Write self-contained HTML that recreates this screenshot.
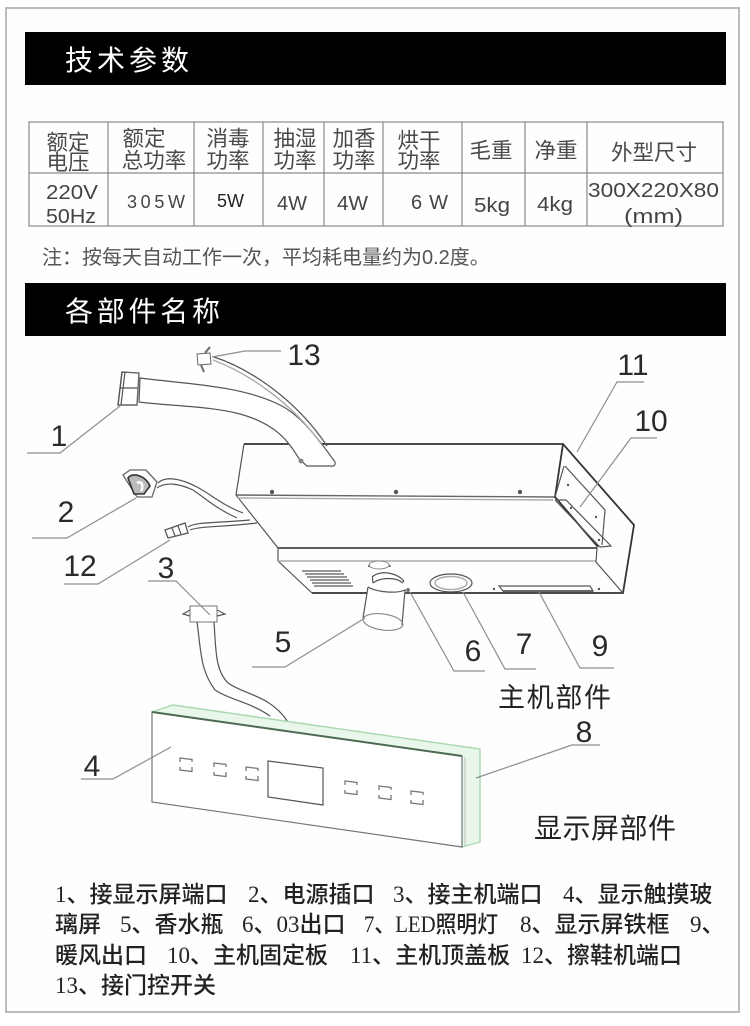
<!DOCTYPE html>
<html lang="zh"><head><meta charset="utf-8"><title>技术参数</title>
<style>
html,body{margin:0;padding:0;background:#fff;width:750px;height:1026px;overflow:hidden}
svg{display:block}
text{font-family:"Liberation Sans","Noto Sans CJK SC",sans-serif}
.th{font-size:21.5px;fill:#4a4a4a;text-anchor:middle}
.td{font-size:20px;fill:#444}
.n{font-size:30px;fill:#2a2a2a;text-anchor:middle}
.b{font-family:"Liberation Serif","Noto Sans CJK SC",serif;font-size:23px;fill:#222;font-weight:500}
.h{font-size:28px;fill:#fff}
.l{fill:none;stroke:#8e8e8e;stroke-width:1.2}
.k{fill:none;stroke:#555;stroke-width:1.2}
.d{fill:none;stroke:#333;stroke-width:1.8}
.g{fill:none;stroke:#aaa;stroke-width:1.4}
</style></head><body>
<svg width="750" height="1026" viewBox="0 0 750 1026" xmlns="http://www.w3.org/2000/svg">
<rect x="6" y="8" width="733" height="1004" fill="#fefefe" stroke="#b5b5b5" stroke-width="1.8"/>
<rect x="25" y="32" width="701" height="53" fill="#000"/>
<rect x="25" y="283" width="701" height="53" fill="#000"/>
<text class="h" x="65" y="70" textLength="124">技术参数</text>
<text class="h" x="65" y="321" textLength="155">各部件名称</text>

<!-- table -->
<g fill="none" stroke="#8a8a8a" stroke-width="1.2">
<rect x="29" y="122" width="694" height="104"/>
<path d="M29 173H723M108 122V226M194 122V226M263 122V226M324 122V226M383 122V226M462 122V226M525 122V226M587 122V226"/>
</g>
<text class="th" x="68" y="150">额定</text><text class="th" x="68" y="170">电压</text>
<text class="th" x="144" y="146">额定</text><text class="th" x="154" y="168">总功率</text>
<text class="th" x="228" y="146">消毒</text><text class="th" x="228" y="168">功率</text>
<text class="th" x="295" y="146">抽湿</text><text class="th" x="295" y="168">功率</text>
<text class="th" x="354" y="146">加香</text><text class="th" x="354" y="168">功率</text>
<text class="th" x="419" y="148">烘干</text><text class="th" x="419" y="168">功率</text>
<text class="th" x="491" y="158">毛重</text>
<text class="th" x="556" y="158">净重</text>
<text class="th" x="654" y="160">外型尺寸</text>
<text class="td" x="46" y="199" textLength="52" lengthAdjust="spacingAndGlyphs">220V</text>
<text class="td" x="46" y="223" textLength="50" lengthAdjust="spacingAndGlyphs">50Hz</text>
<text class="td" x="127" y="208" textLength="58" style="font-size:18px">305W</text>
<text class="td" x="217" y="207" textLength="27" style="font-size:18px;fill:#222">5W</text>
<text class="td" x="277" y="210" textLength="30" lengthAdjust="spacingAndGlyphs">4W</text>
<text class="td" x="337" y="210" textLength="31" lengthAdjust="spacingAndGlyphs">4W</text>
<text class="td" x="411" y="209" textLength="37">6 W</text>
<text class="td" x="474" y="212" textLength="36" lengthAdjust="spacingAndGlyphs">5kg</text>
<text class="td" x="537" y="211" textLength="36" lengthAdjust="spacingAndGlyphs">4kg</text>
<text class="td" x="588" y="197" textLength="131" lengthAdjust="spacingAndGlyphs">300X220X80</text>
<text class="td" x="624" y="223" textLength="59" lengthAdjust="spacingAndGlyphs">(mm)</text>
<text x="42" y="264" style="font-size:20px;fill:#555">注：按每天自动工作一次，平均耗电量约为0.2度。</text>

<!-- main unit -->
<path class="d" d="M244 444H563L634 525L623 593H312"/>
<path class="k" d="M244 444L236 495L278 548V561L312 593"/>
<path d="M236 495L555 497" stroke="#666" stroke-width="1.4" fill="none"/>
<path d="M238 498L553 500" class="g"/>
<path class="d" d="M563 444L555 497L598 547"/>
<path d="M278 548H597" stroke="#444" stroke-width="1.8" fill="none"/>
<path d="M278 561H596" class="g"/>
<path class="k" d="M597 548L596 562L623 593"/>
<path class="k" d="M564 466L555 497M565 466L605 510L602 545"/>
<path class="k" d="M555 500H566L611 546L600 547L555 500"/>
<g fill="#555"><circle cx="568" cy="485" r="1.2"/><circle cx="596" cy="517" r="1.2"/><circle cx="571" cy="508" r="1.2"/><circle cx="599" cy="540" r="1.2"/><circle cx="272" cy="492" r="2.2"/><circle cx="396" cy="492" r="2.2"/><circle cx="520" cy="492" r="2.2"/><circle cx="494" cy="589" r="1.2"/><circle cx="599" cy="589" r="1.2"/></g>
<g stroke="#777" stroke-width="1.6"><path d="M302 571H341M305 574H344M307 577H347M310 580H349M312 583H351M314 586H353"/></g>
<ellipse cx="451" cy="583" rx="21" ry="9" class="k"/><ellipse cx="451" cy="583" rx="16" ry="6.5" class="g"/>
<path class="k" d="M499 586H590L593 591H503Z"/><path d="M503 591H593" stroke="#444" stroke-width="1.5"/>
<!-- bottle -->
<ellipse cx="379" cy="565" rx="10" ry="4" fill="#fff" stroke="#888"/>
<circle cx="369" cy="566" r="1" fill="#666"/><circle cx="390" cy="566" r="1" fill="#666"/>
<path d="M372 577C380 570 396 572 404 581L406 590L405 596C404 610 404 618 402 624C392 634 370 632 363 618L368 587Z" fill="#fff" stroke="none"/>
<path class="k" d="M372 577C380 570 396 572 404 581"/>
<path class="k" d="M373 583C372 578 373 577 372 577M403 582L404 581"/>
<path class="k" d="M373 583C381 577 396 577 403 583"/>
<path class="k" d="M368 587C376 592 396 594 405 590L402 625"/>
<path class="k" d="M368 587L363 618"/>
<ellipse cx="383" cy="622" rx="20" ry="8" fill="none" stroke="#888" stroke-width="1.2" transform="rotate(8 383 622)"/>
<circle cx="408" cy="590" r="2" fill="#777"/>

<!-- hose 1 -->
<path d="M140 378C185 384 240 385 280 405C300 415 318 438 335 462Q336 467 330 466H307L300 460C290 445 280 425 240 414C210 406 170 406 139 402Z" fill="#fff" stroke="#555" stroke-width="1.2"/>
<path d="M122 372L139 373L137 405L118 405Z" fill="#fff" stroke="#666" stroke-width="1.4"/>
<path class="k" d="M122 372L118 405M125 372L121 405M120 388H138"/>
<circle cx="301" cy="461" r="2.5" fill="#888"/>
<!-- 13 -->
<path class="g" d="M213 360C245 372 290 400 322 445"/><path class="k" d="M214 357C248 368 295 398 327 446"/>
<path d="M197 354L210 353L211 364L198 365Z" fill="#fff" stroke="#666"/>
<path d="M205 353L210 347M201 365L204 372" stroke="#777" stroke-width="2.2" fill="none"/>
<!-- 2, 12 wires -->
<path class="k" d="M158 483C165 476 180 478 197 487C212 495 222 505 243 513"/>
<path class="k" d="M157 488C165 482 178 483 193 490C205 498 215 508 237 518"/>
<path class="k" d="M188 527C195 522 215 523 250 520M190 530C200 526 225 527 257 523"/>
<path d="M123 475L130 470H146L157 482L152 497H137Z" fill="#fff" stroke="#666" stroke-width="1.3"/>
<path d="M128 478C132 472 145 475 150 486L144 494H134Z" fill="#bbb" stroke="#333" stroke-width="1.6"/>
<path d="M137 483C142 480 144 487 141 491" stroke="#fff" stroke-width="2.5" fill="none"/>
<path d="M165 530L185 523L188 533L168 538Z" fill="#fff" stroke="#555" stroke-width="1.3"/><path class="k" d="M172 528L175 536M178 526L181 534"/>

<!-- display -->
<path d="M197 622C201 650 200 670 215 690C230 700 250 702 270 716M214 622C216 650 215 670 228 683C245 695 270 695 288 722" class="k" />
<rect x="190" y="606" width="27" height="16" fill="#fff" stroke="#777"/>
<path class="k" d="M190 610L183 614L190 616M217 610L225 614L217 616"/>
<path d="M152 712L173 705L480 749V842L462 847V756Z" fill="#e9f7ea" stroke="#a8d8ae" stroke-width="1.4"/>
<path d="M152 712L462 756V847L152 802Z" fill="#fff" stroke="#777" stroke-width="1.2"/>
<path d="M152 712L462 756" stroke="#4d6b52" stroke-width="2" fill="none"/>
<path d="M465 757V846" stroke="#bbb"/>
<path class="k" d="M268 761L323 768V805L268 797Z"/>
<g fill="none" stroke="#777" stroke-width="1.3">
<path transform="translate(180 758)" d="M0 4V0L12 1.5V4M0 9V12L12 13.5V9"/>
<path transform="translate(214 763)" d="M0 4V0L12 1.5V4M0 9V12L12 13.5V9"/>
<path transform="translate(246 767)" d="M0 4V0L12 1.5V4M0 9V12L12 13.5V9"/>
<path transform="translate(345 781)" d="M0 4V0L12 1.5V4M0 9V12L12 13.5V9"/>
<path transform="translate(379 786)" d="M0 4V0L12 1.5V4M0 9V12L12 13.5V9"/>
<path transform="translate(411 791)" d="M0 4V0L12 1.5V4M0 9V12L12 13.5V9"/>
</g>

<!-- leaders -->
<g class="l">
<path d="M27 453H60L120 406"/><path d="M32 538H67L136 498"/><path d="M64 584H98L170 540"/><path d="M148 581H176L210 615"/>
<path d="M252 667H285L365 618"/><path d="M410 592L454 671H485"/><path d="M463 592L505 669H536"/><path d="M539 592L580 668H614"/>
<path d="M577 452L617 382H644"/><path d="M580 507L631 438H657"/><path d="M476 778L572 745H600"/><path d="M81 779H113L171 747"/><path d="M212 357L245 351H281"/>
</g>

<g>
<text class="n" x="59" y="446">1</text><text class="n" x="66" y="522">2</text><text class="n" x="80" y="576">12</text><text class="n" x="166" y="578">3</text>
<text class="n" x="283" y="652">5</text><text class="n" x="304" y="365">13</text><text class="n" x="633" y="375">11</text><text class="n" x="651" y="431">10</text>
<text class="n" x="473" y="661">6</text><text class="n" x="524" y="654">7</text><text class="n" x="600" y="656">9</text><text class="n" x="92" y="776">4</text><text class="n" x="584" y="742">8</text>
</g>
<text x="498" y="707" textLength="113" style="font-size:27px;fill:#222">主机部件</text>
<text x="534" y="838" textLength="142" style="font-size:28px;fill:#222">显示屏部件</text>

<!-- legend -->
<g class="b">
<text class="b" x="55" y="902">1、接显示屏端口</text><text class="b" x="248" y="902">2、电源插口</text><text class="b" x="393" y="902">3、接主机端口</text><text class="b" x="563" y="902">4、显示触摸玻</text>
<text class="b" x="55" y="932">璃屏</text><text class="b" x="120" y="932">5、香水瓶</text><text class="b" x="242" y="932">6、03出口</text><text class="b" x="364" y="932" textLength="134" lengthAdjust="spacingAndGlyphs">7、LED照明灯</text><text class="b" x="520" y="932">8、显示屏铁框</text><text class="b" x="690" y="932">9、</text>
<text class="b" x="55" y="963">暖风出口</text><text class="b" x="167" y="963">10、主机固定板</text><text class="b" x="350" y="963">11、主机顶盖板</text><text class="b" x="521" y="963">12、擦鞋机端口</text>
<text class="b" x="55" y="993">13、接门控开关</text>
</g>
</svg>
</body></html>
